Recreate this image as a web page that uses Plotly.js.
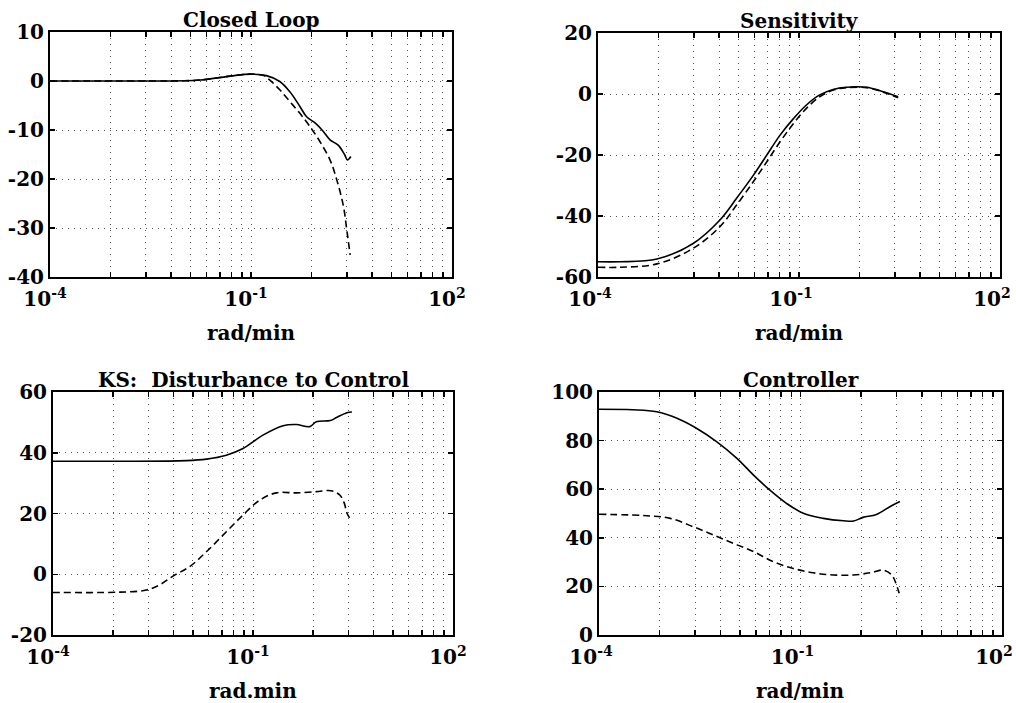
<!DOCTYPE html>
<html>
<head>
<meta charset="utf-8">
<script src="https://cdn.plot.ly/plotly-3.0.1.min.js"></script>
<style>html,body{margin:0;padding:0;background:#fff;}#chart{width:1016px;height:703px;}</style>
</head>
<body>
<div id="chart"></div>
<script>
// ---------- data (frequency in rad/min, magnitude in dB) ----------
const clSolidW = [1e-4, 1e-3, 1e-2, 1.74e-2, 4.9e-2, 9.77e-2, 0.170, 0.269, 0.380, 0.537, 0.676, 0.912, 1.20, 1.51, 2.0, 2.51, 2.75, 3.09];
const clSolidM = [0, 0, 0.05, 0.2, 1.0, 1.4, 1.1, -0.1, -2.2, -5.2, -7.3, -8.6, -10.3, -12.0, -13.1, -15.1, -16.1, -15.4];
const clDashW  = [1e-4, 1e-3, 1e-2, 1.74e-2, 4.9e-2, 9.77e-2, 0.155, 0.191, 0.269, 0.380, 0.537, 0.759, 1.072, 1.51, 1.91, 2.40, 2.69, 3.02];
const clDashM  = [0, 0, 0.05, 0.2, 1.0, 1.4, 1.1, 0.2, -1.8, -4.2, -6.6, -9.3, -12.4, -16.1, -20.2, -25.6, -30.4, -35.5];

const sSolidW = [1e-4, 2.14e-4, 7.59e-4, 2.63e-3, 6.61e-3, 1.17e-2, 2.09e-2, 3.31e-2, 5.25e-2, 8.32e-2, 0.129, 0.204, 0.324, 0.513, 1.023, 1.62, 2.29, 3.02];
const sSolidM = [-55.0, -55.0, -54.1, -49.0, -41.3, -34.2, -26.6, -20.0, -13.4, -8.0, -3.6, -0.3, 1.5, 2.2, 2.2, 1.1, 0, -0.9];
const sDashW  = [1e-4, 2.14e-4, 7.59e-4, 2.63e-3, 6.61e-3, 1.17e-2, 2.09e-2, 3.31e-2, 5.25e-2, 8.32e-2, 0.129, 0.204, 0.324, 0.513, 1.023, 1.62, 2.29, 3.02];
const sDashM  = [-56.8, -56.8, -55.7, -50.6, -43.5, -36.4, -28.7, -22.2, -15.6, -9.6, -4.7, -0.9, 1.3, 2.1, 2.1, 1.0, -0.2, -1.2];

const ksSolidW = [1e-4, 1e-3, 1e-2, 2.0e-2, 3.98e-2, 7.08e-2, 0.141, 0.282, 0.447, 0.708, 0.891, 1.45, 1.82, 2.57, 3.05];
const ksSolidM = [37.2, 37.2, 37.4, 37.9, 39.2, 41.4, 45.8, 48.9, 49.3, 48.6, 50.2, 50.6, 51.7, 53.2, 53.4];
const ksDashW  = [1e-4, 1.12e-4, 1e-3, 2.51e-3, 3.98e-3, 6.31e-3, 1.12e-2, 2.0e-2, 3.98e-2, 7.08e-2, 0.126, 0.224, 0.447, 0.891, 1.48, 2.0, 2.34, 2.57, 2.95];
const ksDashM  = [-6.0, -6.0, -5.9, -5.2, -3.5, -0.6, 2.5, 7.4, 14.0, 19.5, 24.4, 26.8, 26.8, 27.2, 27.5, 26.1, 23.4, 20.1, 17.9];

const kSolidW = [1e-4, 3.16e-4, 7.24e-4, 1.45e-3, 2.82e-3, 5.62e-3, 1.12e-2, 2.0e-2, 3.47e-2, 6.17e-2, 0.110, 0.219, 0.437, 0.617, 0.851, 1.35, 2.14, 3.02];
const kSolidM = [92.9, 92.7, 91.9, 89.2, 85.1, 79.6, 72.8, 65.8, 59.7, 54.2, 50.1, 48.0, 47.0, 46.9, 48.4, 49.6, 52.8, 54.9];
const kDashW  = [1e-4, 5.75e-4, 1.15e-3, 2.51e-3, 5.01e-3, 1e-2, 2.0e-2, 3.89e-2, 7.76e-2, 0.155, 0.309, 0.617, 1.096, 1.70, 2.29, 2.57, 2.95];
const kDashM  = [49.7, 49.0, 48.0, 44.6, 41.2, 37.7, 34.3, 30.2, 27.4, 25.6, 24.7, 24.7, 25.6, 26.7, 24.7, 22.0, 17.2];

// ---------- tick labels / grid positions ----------
const xGridVals = [1e-4, 8e-4, 2.7e-3, 6.4e-3, 1.25e-2, 2.16e-2, 3.43e-2, 5.12e-2, 7.29e-2, 1e-1,
                   0.8, 2.7, 6.4, 12.5, 21.6, 34.3, 51.2, 72.9, 100];
const xGridText = ['10<sup>-4</sup>', '', '', '', '', '', '', '', '', '10<sup>-1</sup>',
                   '', '', '', '', '', '', '', '', '10<sup>2</sup>'];
const y1Vals = [-40, -30, -20, -10, 0, 10];
const y1Text = ['-40', '-30', '-20', '-10', '0', '10'];
const y2Vals = [-60, -40, -20, 0, 20];
const y2Text = ['-60', '-40', '-20', '0', '20'];
const y3Vals = [-20, 0, 20, 40, 60];
const y3Text = ['-20', '0', '20', '40', '60'];
const y4Vals = [0, 20, 40, 60, 80, 100];
const y4Text = ['0', '20', '40', '60', '80', '100'];

const titles = ['Closed Loop', 'Sensitivity', 'KS:\u00a0 Disturbance to Control', 'Controller'];
const xTitles = ['rad/min', 'rad/min', 'rad.min', 'rad/min'];

// ---------- build ----------
const W = 1016, H = 703;
const boxes = [ // left, right, top, bottom in px
  [50, 452, 32, 277],
  [598, 1000, 33, 277],
  [53, 453, 392, 635],
  [599, 1002, 392, 635]
];
const labelShift = [-5, -8, -5, -8];
const FONT = {family: 'DejaVu Serif, serif', size: 20, color: '#000', weight: 'bold'};

function line(x, y, dash, i) {
  const sfx = i === 0 ? '' : String(i + 1);
  return {x: x, y: y, type: 'scatter', mode: 'lines', xaxis: 'x' + sfx, yaxis: 'y' + sfx,
    line: {color: '#000', width: 1.6, dash: dash, shape: 'spline', smoothing: 1.0},
    hoverinfo: 'skip', showlegend: false};
}
const DASH = '7px,4px';
const data = [
  line(clSolidW, clSolidM, 'solid', 0), line(clDashW, clDashM, DASH, 0),
  line(sSolidW, sSolidM, 'solid', 1), line(sDashW, sDashM, DASH, 1),
  line(ksSolidW, ksSolidM, 'solid', 2), line(ksDashW, ksDashM, DASH, 2),
  line(kSolidW, kSolidM, 'solid', 3), line(kDashW, kDashM, DASH, 3)
];

const yTicks = [[y1Vals, y1Text, [-40, 10]], [y2Vals, y2Text, [-60, 20]], [y3Vals, y3Text, [-20, 60]], [y4Vals, y4Text, [0, 100]]];
const layout = {
  width: W, height: H, margin: {l: 0, r: 0, t: 0, b: 0},
  paper_bgcolor: '#fff', plot_bgcolor: '#fff', font: FONT, showlegend: false,
  annotations: []
};
boxes.forEach((b, i) => {
  const sfx = i === 0 ? '' : String(i + 1);
  layout['xaxis' + sfx] = {
    type: 'log', range: [-4, 2], domain: [b[0] / W, b[1] / W], anchor: 'y' + sfx,
    tickvals: xGridVals, ticktext: xGridText, tickmode: 'array',
    ticks: 'inside', ticklen: 5, tickwidth: 1.5, tickcolor: '#000',
    ticklabelshift: labelShift[i], ticklabelstandoff: 3, ticklabeloverflow: 'allow',
    showline: true, linecolor: '#000', linewidth: 2, mirror: 'allticks',
    showgrid: true, gridcolor: '#555', gridwidth: 1, griddash: '1px,5px',
    zeroline: false, tickfont: FONT, fixedrange: true
  };
  layout['yaxis' + sfx] = {
    range: yTicks[i][2], domain: [1 - b[3] / H, 1 - b[2] / H], anchor: 'x' + sfx,
    tickvals: yTicks[i][0], ticktext: yTicks[i][1], tickmode: 'array',
    ticks: 'inside', ticklen: 5, tickwidth: 1.5, tickcolor: '#000',
    showline: true, linecolor: '#000', linewidth: 2, mirror: 'allticks',
    showgrid: true, gridcolor: '#555', gridwidth: 1, griddash: '1px,5px',
    zeroline: false, tickfont: FONT, fixedrange: true
  };
  const cx = (b[0] + b[1]) / 2 / W;
  layout.annotations.push({text: titles[i], xref: 'paper', yref: 'paper', x: cx, y: 1 - (b[2] - 12) / H,
    xanchor: 'center', yanchor: 'middle', showarrow: false, font: FONT});
  layout.annotations.push({text: xTitles[i], xref: 'paper', yref: 'paper', x: cx, y: 1 - (b[3] + 56) / H,
    xanchor: 'center', yanchor: 'middle', showarrow: false, font: FONT});
});

Plotly.newPlot('chart', data, layout, {staticPlot: true, displayModeBar: false});
</script>
</body>
</html>
